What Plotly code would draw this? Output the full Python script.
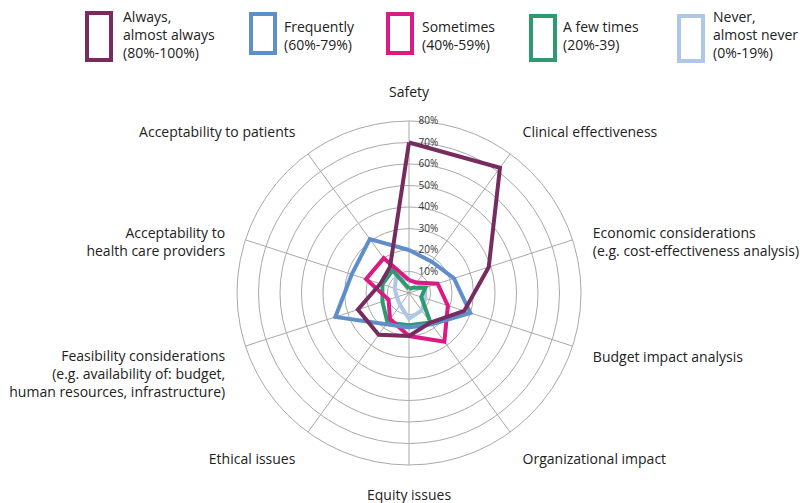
import plotly.graph_objects as go

categories = [
    "Safety",
    "Clinical effectiveness",
    "Economic considerations<br>(e.g. cost-effectiveness analysis)",
    "Budget impact analysis",
    "Organizational impact",
    "Equity issues",
    "Ethical issues",
    "Feasibility considerations<br>(e.g. availability of: budget,<br>human resources, infrastructure)",
    "Acceptability to<br>health care providers",
    "Acceptability to patients",
]

always = [70, 72, 39, 27, 17, 20, 24, 25, 14, 15]
frequently = [20, 18, 22, 30, 18, 16, 18, 36, 28, 31]
sometimes = [6, 6, 14, 19, 28, 20, 15, 10, 21, 20]
few_times = [2, 3, 8, 6, 17, 15, 17, 13, 13, 13]
never = [6, 6, 8, 8, 10, 12, 7, 6, 7, 10]

series_names = ["Always,<br>almost always<br>(80%-100%)", "Frequently<br>(60%-79%)",
                "Sometimes<br>(40%-59%)", "A few times<br>(20%-39)",
                "Never,<br>almost never<br>(0%-19%)"]
series_values = [always, frequently, sometimes, few_times, never]
colors = ["#772B5E", "#5F8FCB", "#DB1A84", "#2F9A6F", "#AFC7E6"]

radial_ticks = [10, 20, 30, 40, 50, 60, 70, 80]

# the page body has an 8px default margin: size the figure to fit the window
OFF = 8
W, H = 807 - OFF, 503 - OFF
FONT = "Open Sans"


def px(x):
    return (x - OFF) / W


def py(y):
    return 1 - (y - OFF) / H


# multi-line category labels sit lower in the reference: pad with leading blank lines
def pad_label(c):
    n = c.count("<br>") + 1
    if n == 1:
        return c
    return " <br>" * (2 if n == 2 else 1) + c


tick_labels = [pad_label(c) for c in categories]

fig = go.Figure()
for name, vals, col in reversed(list(zip(series_names, series_values, colors))):
    fig.add_trace(go.Scatterpolar(
        r=vals + vals[:1],
        theta=categories + categories[:1],
        mode="lines",
        line=dict(color=col, width=4),
        name=name.replace("<br>", " "),
        showlegend=False,
    ))

cx, cy, R = 409, 293, 172
fig.update_layout(
    width=W, height=H,
    margin=dict(l=0, r=0, t=0, b=0),
    paper_bgcolor="white", plot_bgcolor="white",
    font=dict(family=FONT, color="#222", size=13),
    polar=dict(
        domain=dict(x=[px(cx - R), px(cx + R)], y=[py(cy + R), py(cy - R)]),
        bgcolor="white",
        angularaxis=dict(
            direction="clockwise", rotation=90,
            categoryorder="array", categoryarray=categories,
            tickmode="array", tickvals=categories, ticktext=tick_labels,
            showline=True, linecolor="#a9a9a9", linewidth=1,
            gridcolor="#a9a9a9", gridwidth=1,
            ticks="outside", ticklen=18, tickcolor="rgba(0,0,0,0)",
            tickfont=dict(family=FONT, size=14, color="#222"),
        ),
        radialaxis=dict(
            range=[0, 80], angle=90, side="clockwise",
            tickvals=radial_ticks, ticktext=[f"{v}%" for v in radial_ticks],
            showline=False, ticks="outside", ticklen=7, tickcolor="rgba(0,0,0,0)",
            gridcolor="#a9a9a9", gridwidth=1,
            tickfont=dict(family=FONT, size=10, color="#333"),
            tickangle=90,
        ),
    ),
)

legend_boxes = [(85, 11, 113, 62), (249, 12, 277, 55), (386, 12, 414, 55),
                (529, 14, 557, 62), (677, 14, 705, 63)]
legend_text_x = [121, 282, 420, 561, 711]
for (x0, y0, x1, y1), tx, name, col in zip(legend_boxes, legend_text_x, series_names, colors):
    fig.add_shape(type="rect", xref="paper", yref="paper",
                  x0=px(x0 + 2), x1=px(x1 - 2), y0=py(y1 - 2), y1=py(y0 + 2),
                  line=dict(color=col, width=4), fillcolor="rgba(0,0,0,0)")
    n = name.count("<br>") + 1
    mid = 34.5 if n == 3 else 35
    fig.add_annotation(x=px(tx), y=py(mid), xref="paper", yref="paper",
                       text=name, showarrow=False, xanchor="left", yanchor="middle",
                       align="left", font=dict(family=FONT, size=14, color="#222"))

fig.write_html("out.html")
